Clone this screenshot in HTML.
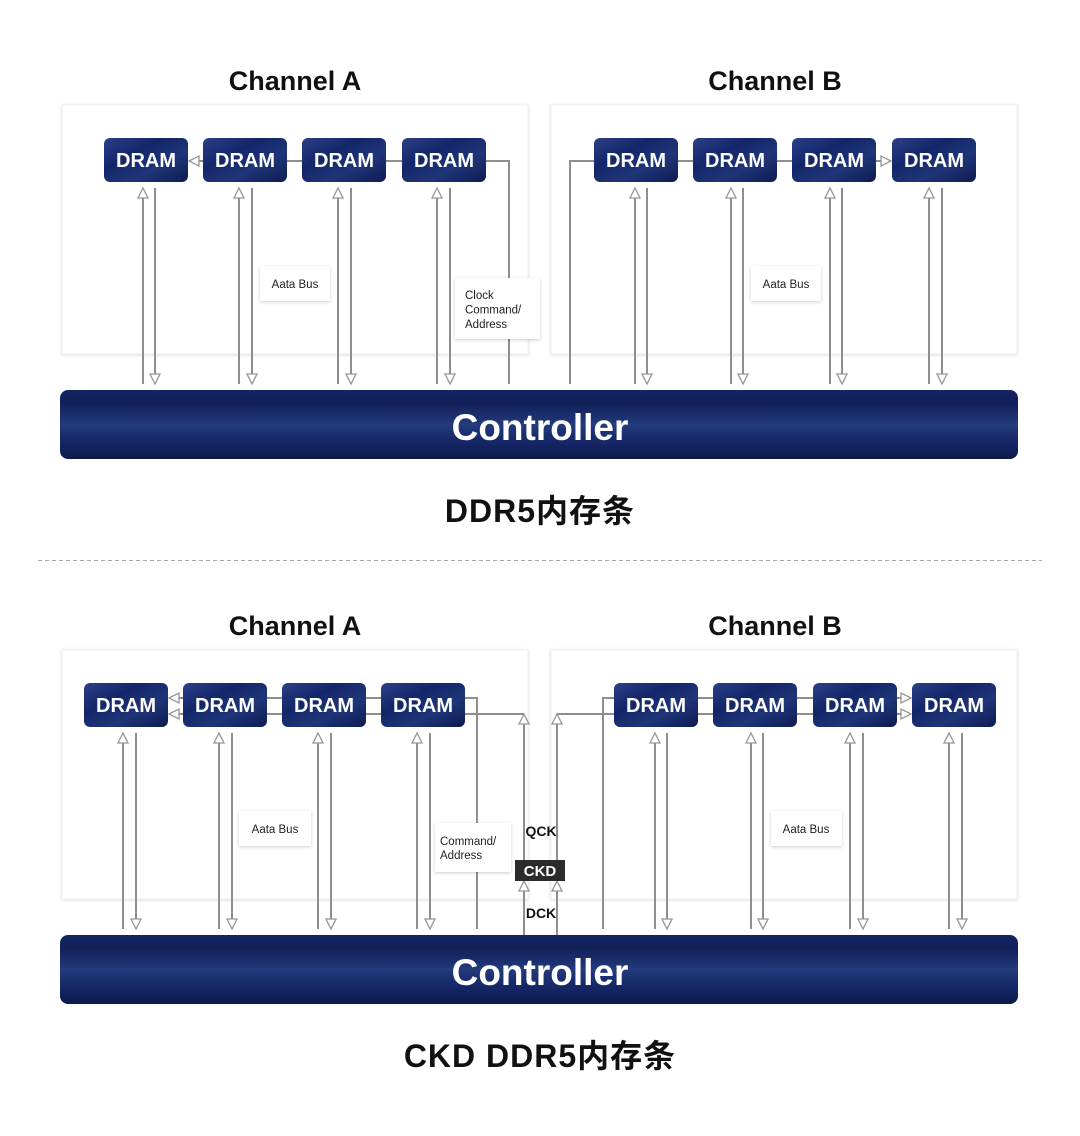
<!DOCTYPE html>
<html><head><meta charset="utf-8"><style>
html,body{margin:0;padding:0;background:#fff;}
svg{display:block;}
</style></head><body>
<svg width="1080" height="1136" viewBox="0 0 1080 1136" xmlns="http://www.w3.org/2000/svg">
<defs>
<linearGradient id="dram" x1="0" y1="0" x2="1" y2="1">
<stop offset="0" stop-color="#2b4088"/>
<stop offset="0.35" stop-color="#14266a"/>
<stop offset="0.65" stop-color="#1f3578"/>
<stop offset="1" stop-color="#0e1b50"/>
</linearGradient>
<linearGradient id="ctrl" x1="0" y1="0" x2="0" y2="1">
<stop offset="0" stop-color="#142460"/>
<stop offset="0.2" stop-color="#112059"/>
<stop offset="0.5" stop-color="#233a7c"/>
<stop offset="0.75" stop-color="#152766"/>
<stop offset="1" stop-color="#0d1a4d"/>
</linearGradient>
<filter id="sh" x="-5%" y="-5%" width="110%" height="110%">
<feDropShadow dx="0" dy="0.5" stdDeviation="1.5" flood-color="#000" flood-opacity="0.15"/>
</filter>
<filter id="sh2" x="-20%" y="-20%" width="140%" height="140%">
<feDropShadow dx="0" dy="1" stdDeviation="1.5" flood-color="#000" flood-opacity="0.2"/>
</filter>
</defs>

<!-- ================= TOP ================= -->
<text x="295" y="90" font-family="Liberation Sans, sans-serif" font-weight="bold" font-size="27" text-anchor="middle" fill="#111">Channel A</text>
<text x="775" y="90" font-family="Liberation Sans, sans-serif" font-weight="bold" font-size="27" text-anchor="middle" fill="#111">Channel B</text>

<rect x="62" y="105" width="466" height="249" fill="#fff" stroke="#f0f0f0" stroke-width="1" filter="url(#sh)"/>
<rect x="551" y="105" width="466" height="249" fill="#fff" stroke="#f0f0f0" stroke-width="1" filter="url(#sh)"/>

<g stroke="#8e8e8e" stroke-width="2" fill="none">
<polyline points="199,161 509,161 509,384"/>
<polyline points="570,384 570,161 881,161"/>
<line x1="143" y1="198" x2="143" y2="384"/><line x1="155" y1="188" x2="155" y2="374"/>
<line x1="239" y1="198" x2="239" y2="384"/><line x1="252" y1="188" x2="252" y2="374"/>
<line x1="338" y1="198" x2="338" y2="384"/><line x1="351" y1="188" x2="351" y2="374"/>
<line x1="437" y1="198" x2="437" y2="384"/><line x1="450" y1="188" x2="450" y2="374"/>
<line x1="635" y1="198" x2="635" y2="384"/><line x1="647" y1="188" x2="647" y2="374"/>
<line x1="731" y1="198" x2="731" y2="384"/><line x1="743" y1="188" x2="743" y2="374"/>
<line x1="830" y1="198" x2="830" y2="384"/><line x1="842" y1="188" x2="842" y2="374"/>
<line x1="929" y1="198" x2="929" y2="384"/><line x1="942" y1="188" x2="942" y2="374"/>
</g>
<g stroke="#969696" stroke-width="1.3" fill="#fff">
<polygon points="189,161 199,156 199,166"/>
<polygon points="891,161 881,156 881,166"/>
<polygon points="143,188 138,198 148,198"/><polygon points="155,384 150,374 160,374"/>
<polygon points="239,188 234,198 244,198"/><polygon points="252,384 247,374 257,374"/>
<polygon points="338,188 333,198 343,198"/><polygon points="351,384 346,374 356,374"/>
<polygon points="437,188 432,198 442,198"/><polygon points="450,384 445,374 455,374"/>
<polygon points="635,188 630,198 640,198"/><polygon points="647,384 642,374 652,374"/>
<polygon points="731,188 726,198 736,198"/><polygon points="743,384 738,374 748,374"/>
<polygon points="830,188 825,198 835,198"/><polygon points="842,384 837,374 847,374"/>
<polygon points="929,188 924,198 934,198"/><polygon points="942,384 937,374 947,374"/>
</g>

<g font-family="Liberation Sans, sans-serif" font-weight="bold" font-size="20" fill="#fff" text-anchor="middle">
<rect x="104" y="138" width="84" height="44" rx="6" fill="url(#dram)"/><text x="146" y="167">DRAM</text>
<rect x="203" y="138" width="84" height="44" rx="6" fill="url(#dram)"/><text x="245" y="167">DRAM</text>
<rect x="302" y="138" width="84" height="44" rx="6" fill="url(#dram)"/><text x="344" y="167">DRAM</text>
<rect x="402" y="138" width="84" height="44" rx="6" fill="url(#dram)"/><text x="444" y="167">DRAM</text>
<rect x="594" y="138" width="84" height="44" rx="6" fill="url(#dram)"/><text x="636" y="167">DRAM</text>
<rect x="693" y="138" width="84" height="44" rx="6" fill="url(#dram)"/><text x="735" y="167">DRAM</text>
<rect x="792" y="138" width="84" height="44" rx="6" fill="url(#dram)"/><text x="834" y="167">DRAM</text>
<rect x="892" y="138" width="84" height="44" rx="6" fill="url(#dram)"/><text x="934" y="167">DRAM</text>
</g>

<g font-family="Liberation Sans, sans-serif" font-size="11.5" fill="#222">
<rect x="260" y="266" width="70" height="35" fill="#fff" filter="url(#sh2)"/>
<text x="295" y="288" text-anchor="middle">Aata Bus</text>
<rect x="751" y="266" width="70" height="35" fill="#fff" filter="url(#sh2)"/>
<text x="786" y="288" text-anchor="middle">Aata Bus</text>
<rect x="455" y="278" width="85" height="61" fill="#fff" filter="url(#sh2)"/>
<text x="465" y="299">Clock</text>
<text x="465" y="313.5">Command/</text>
<text x="465" y="328">Address</text>
</g>

<rect x="60" y="390" width="958" height="69" rx="8" fill="url(#ctrl)"/>
<text x="540" y="440" font-family="Liberation Sans, sans-serif" font-weight="bold" font-size="37" fill="#fff" text-anchor="middle">Controller</text>

<text x="540" y="522" font-family="Liberation Sans, 'Noto Sans CJK SC', sans-serif" font-weight="bold" font-size="32" letter-spacing="1" fill="#111" text-anchor="middle">DDR5内存条</text>

<line x1="38" y1="560.5" x2="1042" y2="560.5" stroke="#a8a8a8" stroke-width="1" stroke-dasharray="4,3"/>

<!-- ================= BOTTOM ================= -->
<text x="295" y="635" font-family="Liberation Sans, sans-serif" font-weight="bold" font-size="27" text-anchor="middle" fill="#111">Channel A</text>
<text x="775" y="635" font-family="Liberation Sans, sans-serif" font-weight="bold" font-size="27" text-anchor="middle" fill="#111">Channel B</text>

<rect x="62" y="650" width="466" height="249" fill="#fff" stroke="#f0f0f0" stroke-width="1" filter="url(#sh)"/>
<rect x="551" y="650" width="466" height="249" fill="#fff" stroke="#f0f0f0" stroke-width="1" filter="url(#sh)"/>

<g stroke="#8e8e8e" stroke-width="2" fill="none">
<polyline points="179,698 477,698 477,929"/>
<polyline points="179,714 524,714"/>
<line x1="524" y1="724" x2="524" y2="860"/>
<line x1="524" y1="891" x2="524" y2="936"/>
<polyline points="557,714 901,714"/>
<polyline points="603,929 603,698 901,698"/>
<line x1="557" y1="724" x2="557" y2="860"/>
<line x1="557" y1="891" x2="557" y2="936"/>
<line x1="123" y1="743" x2="123" y2="929"/><line x1="136" y1="733" x2="136" y2="919"/>
<line x1="219" y1="743" x2="219" y2="929"/><line x1="232" y1="733" x2="232" y2="919"/>
<line x1="318" y1="743" x2="318" y2="929"/><line x1="331" y1="733" x2="331" y2="919"/>
<line x1="417" y1="743" x2="417" y2="929"/><line x1="430" y1="733" x2="430" y2="919"/>
<line x1="655" y1="743" x2="655" y2="929"/><line x1="667" y1="733" x2="667" y2="919"/>
<line x1="751" y1="743" x2="751" y2="929"/><line x1="763" y1="733" x2="763" y2="919"/>
<line x1="850" y1="743" x2="850" y2="929"/><line x1="863" y1="733" x2="863" y2="919"/>
<line x1="949" y1="743" x2="949" y2="929"/><line x1="962" y1="733" x2="962" y2="919"/>
</g>
<g stroke="#969696" stroke-width="1.3" fill="#fff">
<polygon points="169,698 179,693 179,703"/>
<polygon points="169,714 179,709 179,719"/>
<polygon points="911,698 901,693 901,703"/>
<polygon points="911,714 901,709 901,719"/>
<polygon points="524,714 519,724 529,724"/>
<polygon points="557,714 552,724 562,724"/>
<polygon points="524,881 519,891 529,891"/>
<polygon points="557,881 552,891 562,891"/>
<polygon points="123,733 118,743 128,743"/><polygon points="136,929 131,919 141,919"/>
<polygon points="219,733 214,743 224,743"/><polygon points="232,929 227,919 237,919"/>
<polygon points="318,733 313,743 323,743"/><polygon points="331,929 326,919 336,919"/>
<polygon points="417,733 412,743 422,743"/><polygon points="430,929 425,919 435,919"/>
<polygon points="655,733 650,743 660,743"/><polygon points="667,929 662,919 672,919"/>
<polygon points="751,733 746,743 756,743"/><polygon points="763,929 758,919 768,919"/>
<polygon points="850,733 845,743 855,743"/><polygon points="863,929 858,919 868,919"/>
<polygon points="949,733 944,743 954,743"/><polygon points="962,929 957,919 967,919"/>
</g>

<g font-family="Liberation Sans, sans-serif" font-weight="bold" font-size="20" fill="#fff" text-anchor="middle">
<rect x="84" y="683" width="84" height="44" rx="6" fill="url(#dram)"/><text x="126" y="712">DRAM</text>
<rect x="183" y="683" width="84" height="44" rx="6" fill="url(#dram)"/><text x="225" y="712">DRAM</text>
<rect x="282" y="683" width="84" height="44" rx="6" fill="url(#dram)"/><text x="324" y="712">DRAM</text>
<rect x="381" y="683" width="84" height="44" rx="6" fill="url(#dram)"/><text x="423" y="712">DRAM</text>
<rect x="614" y="683" width="84" height="44" rx="6" fill="url(#dram)"/><text x="656" y="712">DRAM</text>
<rect x="713" y="683" width="84" height="44" rx="6" fill="url(#dram)"/><text x="755" y="712">DRAM</text>
<rect x="813" y="683" width="84" height="44" rx="6" fill="url(#dram)"/><text x="855" y="712">DRAM</text>
<rect x="912" y="683" width="84" height="44" rx="6" fill="url(#dram)"/><text x="954" y="712">DRAM</text>
</g>

<g font-family="Liberation Sans, sans-serif" font-size="11.5" fill="#222">
<rect x="239" y="811" width="72" height="35" fill="#fff" filter="url(#sh2)"/>
<text x="275" y="833" text-anchor="middle">Aata Bus</text>
<rect x="771" y="811" width="71" height="35" fill="#fff" filter="url(#sh2)"/>
<text x="806" y="833" text-anchor="middle">Aata Bus</text>
<rect x="435" y="823" width="76" height="49" fill="#fff" filter="url(#sh2)"/>
<text x="440" y="845">Command/</text>
<text x="440" y="859">Address</text>
</g>

<rect x="515" y="860" width="50" height="21" fill="#2b2b2b"/>
<text x="540" y="876" font-family="Liberation Sans, sans-serif" font-weight="bold" font-size="15" fill="#fff" text-anchor="middle">CKD</text>
<text x="541" y="836" font-family="Liberation Sans, sans-serif" font-weight="bold" font-size="14" fill="#111" text-anchor="middle">QCK</text>
<text x="541" y="918" font-family="Liberation Sans, sans-serif" font-weight="bold" font-size="14" fill="#111" text-anchor="middle">DCK</text>

<rect x="60" y="935" width="958" height="69" rx="8" fill="url(#ctrl)"/>
<text x="540" y="985" font-family="Liberation Sans, sans-serif" font-weight="bold" font-size="37" fill="#fff" text-anchor="middle">Controller</text>

<text x="540" y="1067" font-family="Liberation Sans, 'Noto Sans CJK SC', sans-serif" font-weight="bold" font-size="32" letter-spacing="1" fill="#111" text-anchor="middle">CKD DDR5内存条</text>
</svg>
</body></html>
